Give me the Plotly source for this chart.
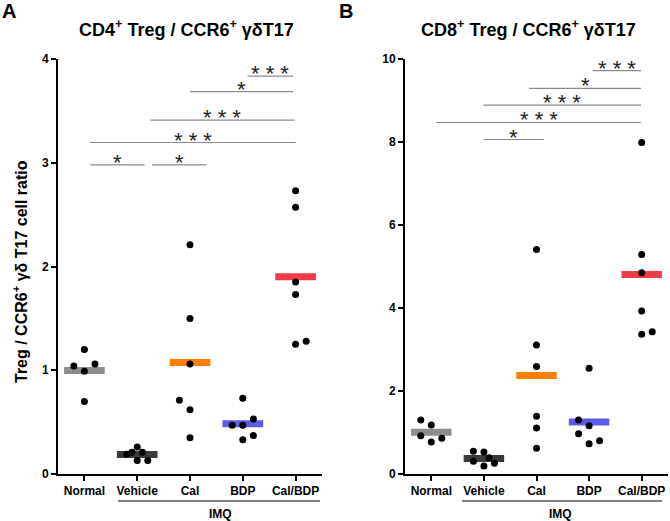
import numpy as np
import plotly.graph_objects as go
from plotly.subplots import make_subplots

groups = ["Normal", "Vehicle", "Cal", "BDP", "Cal/BDP"]
bar_colors = ["#8c8c8c", "#3a3a3a", "#ff8000", "#5a5aeb", "#ee3b47"]

# panel A: CD4+ Treg / CCR6+ gdT17
a_values = [
    [1.04, 1.20, 1.06, 0.99, 0.70],
    [0.19, 0.21, 0.26, 0.21, 0.13, 0.13],
    [2.21, 1.50, 1.06, 0.71, 0.62, 0.35],
    [0.73, 0.53, 0.47, 0.47, 0.37, 0.33],
    [2.73, 2.57, 1.85, 1.73, 1.25, 1.28],
]
a_jitter = [
    [-0.2, 0, 0.2, 0, 0],
    [-0.2, -0.1, 0, 0.1, 0, 0.2],
    [0, 0, 0, -0.2, 0, 0],
    [0, 0.2, -0.2, 0, 0.2, 0],
    [0, 0, 0, 0, 0, 0.2],
]
# (x start, x end, y, label)
a_sig = [
    (0.11, 1.14, 2.98, "*"),
    (1.28, 2.31, 2.98, "*"),
    (0.10, 4.00, 3.195, "***"),
    (1.25, 3.98, 3.41, "***"),
    (2.00, 3.95, 3.685, "*"),
    (3.09, 3.95, 3.835, "***"),
]

# panel B: CD8+ Treg / CCR6+ gdT17
b_values = [
    [1.30, 1.18, 0.92, 0.77, 0.86],
    [0.55, 0.53, 0.31, 0.39, 0.26, 0.19],
    [5.41, 3.11, 2.59, 1.39, 1.11, 0.62],
    [2.55, 1.30, 1.16, 0.97, 0.73, 0.80],
    [7.99, 5.29, 4.85, 3.93, 3.37, 3.43],
]
b_jitter = [
    [-0.2, 0, -0.2, 0, 0.2],
    [-0.2, 0, -0.2, 0.1, 0.2, 0],
    [0, 0, 0, 0, 0, 0],
    [0, -0.2, 0, -0.2, 0, 0.2],
    [0, 0, 0, 0, 0, 0.2],
]
b_sig = [
    (0.99, 2.14, 8.06, "*"),
    (0.09, 3.99, 8.47, "***"),
    (0.99, 3.99, 8.89, "***"),
    (1.86, 3.99, 9.29, "*"),
    (3.07, 3.99, 9.72, "***"),
]

FONT = "Liberation Sans, Arial, sans-serif"
W, H = 670, 521

fig = make_subplots(rows=1, cols=2)


def add_panel(col, values, jitter, sig):
    xr = "x" if col == 1 else "x2"
    yr = "y" if col == 1 else "y2"
    for i, vals in enumerate(values):
        m = float(np.mean(vals))
        fig.add_trace(go.Scatter(
            x=[i - 0.385, i + 0.385], y=[m, m], mode="lines",
            line=dict(color=bar_colors[i], width=7),
            showlegend=False, hoverinfo="skip",
        ), row=1, col=col)
        fig.add_trace(go.Scatter(
            x=[i + j for j in jitter[i]], y=vals, mode="markers",
            marker=dict(color="black", size=7),
            showlegend=False, name=groups[i],
        ), row=1, col=col)
    for x0, x1, y, lab in sig:
        fig.add_shape(type="line", xref=xr, yref=yr, x0=x0, x1=x1, y0=y, y1=y,
                      line=dict(color="#8a8a8a", width=1.2))
        fig.add_annotation(xref=xr, yref=yr, x=(x0 + x1) / 2, y=y,
                           text=" ".join(lab), showarrow=False,
                           xanchor="center", yanchor="bottom", yshift=-12,
                           font=dict(family=FONT, size=22, color="#222"))


add_panel(1, a_values, a_jitter, a_sig)
add_panel(2, b_values, b_jitter, b_sig)

axis_common = dict(
    showline=True, linecolor="black", linewidth=2,
    ticks="outside", ticklen=5, tickwidth=2, tickcolor="black",
    showgrid=False, zeroline=False, automargin=False,
    tickfont=dict(family=FONT, size=12, color="black", weight="bold"),
)
ydom = [1 - 474 / H, 1 - 59 / H]
fig.update_xaxes(axis_common, range=[-0.5, 4.5], tickvals=list(range(5)),
                 ticktext=groups)
fig.update_xaxes(domain=[58 / W, 322 / W], row=1, col=1)
fig.update_xaxes(domain=[405 / W, 668 / W], row=1, col=2)
fig.update_yaxes(axis_common, domain=ydom)
fig.update_yaxes(range=[0, 4], tickvals=[0, 1, 2, 3, 4], row=1, col=1)
fig.update_yaxes(range=[0, 10], tickvals=[0, 2, 4, 6, 8, 10], row=1, col=2)


def paper_text(x, y, txt, size, angle=0):
    fig.add_annotation(xref="paper", yref="paper", x=x / W, y=1 - y / H,
                       text=txt, showarrow=False, textangle=angle,
                       xanchor="center", yanchor="middle",
                       font=dict(family=FONT, size=size, color="black"))


# IMQ bracket under the treated groups
for x0, x1, xt in [(118, 320, 220), (462, 662, 560)]:
    fig.add_shape(type="line", xref="paper", yref="paper",
                  x0=x0 / W, x1=x1 / W, y0=1 - 501 / H, y1=1 - 501 / H,
                  line=dict(color="black", width=1))
    paper_text(xt, 514, "<b>IMQ</b>", 12)

paper_text(186, 28, "<b>CD4<sup>+</sup> Treg / CCR6<sup>+</sup> γδT17</b>", 18)
paper_text(528, 28, "<b>CD8<sup>+</sup> Treg / CCR6<sup>+</sup> γδT17</b>", 18)
paper_text(9, 11, "<b>A</b>", 20)
paper_text(346, 11, "<b>B</b>", 20)
paper_text(20, 272, "<b>Treg / CCR6<sup>+</sup> γδ T17 cell ratio</b>", 16, -90)

fig.update_layout(
    width=W, height=H,
    margin=dict(l=0, r=0, t=0, b=0),
    plot_bgcolor="white", paper_bgcolor="white",
    font=dict(family=FONT),
)

fig.write_html("out.html", config={"displayModeBar": False},
               post_script="document.body.style.margin='0';")
